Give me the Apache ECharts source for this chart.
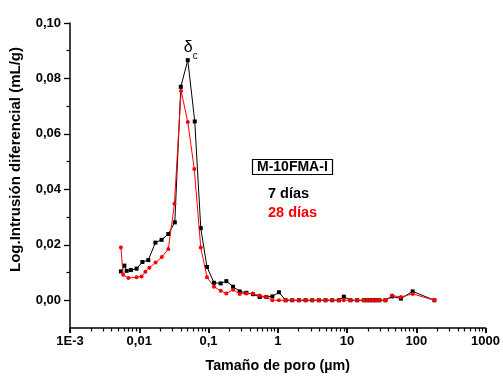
<!DOCTYPE html>
<html>
<head>
<meta charset="utf-8">
<script src="https://cdn.jsdelivr.net/npm/echarts@6/dist/echarts.min.js"></script>
<style>
  html, body { margin: 0; padding: 0; background: #fff; }
  #chart { width: 503px; height: 378px; }
</style>
</head>
<body>
<div id="chart"></div>
<script>
// Pore size (µm) and differential log intrusion (mL/g), sample M-10FMA-I
var sizes7 = [0.00543, 0.0061, 0.00657, 0.00757, 0.00915, 0.0111, 0.0135, 0.0171, 0.021, 0.0263,
  0.0326, 0.0398, 0.0502, 0.0633, 0.0773, 0.095, 0.120, 0.150, 0.181, 0.226,
  0.282, 0.352, 0.439, 0.548, 0.684, 0.835, 1.039, 1.298, 1.621, 2.018,
  2.521, 3.148, 3.92, 4.895, 6.114, 7.61, 8.99, 11.22, 14.02, 17.45,
  19.54, 21.58, 24.08, 26.34, 29.39, 35.86, 44.79, 60.0, 88.7, 182.4];
var values7 = [0.0104, 0.0125, 0.0106, 0.0109, 0.0114, 0.0138, 0.0145, 0.0208, 0.0218, 0.0239,
  0.0281, 0.0770, 0.0866, 0.0645, 0.0260, 0.0120, 0.0063, 0.0061, 0.0069, 0.0049,
  0.0032, 0.0027, 0.0022, 0.0012, 0.0012, 0.0014, 0.0029, 0, 0, 0,
  0, 0, 0, 0, 0, 0, 0.0013, 0, 0, 0,
  0, 0, 0, 0, 0, 0, 0.0014, 0.0006, 0.0032, 0];

var sizes28 = [0.00543, 0.00586, 0.00697, 0.00915, 0.0108, 0.01225, 0.0140, 0.0172, 0.0212, 0.0263,
  0.0322, 0.0402, 0.0502, 0.0623, 0.0773, 0.095, 0.120, 0.150, 0.181, 0.226,
  0.282, 0.352, 0.439, 0.548, 0.684, 0.835, 1.039, 1.298, 1.621, 2.018,
  2.521, 3.148, 3.92, 4.895, 6.114, 7.61, 8.99, 11.22, 14.02, 17.45,
  19.54, 21.58, 24.08, 26.34, 29.39, 35.86, 44.79, 60.0, 88.7, 182.4];
var values28 = [0.0190, 0.0092, 0.0080, 0.0083, 0.0086, 0.0103, 0.0117, 0.0136, 0.0156, 0.0185,
  0.0348, 0.0755, 0.0643, 0.0473, 0.0190, 0.0083, 0.0049, 0.0034, 0.0024, 0.0038,
  0.0023, 0.0024, 0.0024, 0.0017, 0.0012, 0, 0, 0, 0, 0,
  0, 0, 0, 0, 0, 0, 0, 0, 0, 0,
  0, 0, 0, 0, 0, 0, 0.0017, 0.0012, 0.0023, 0];

// Axis ticks and labels
var xMajorTicks = [0.001, 0.01, 0.1, 1, 10, 100, 1000];
var xTickLabels = ['1E-3', '0,01', '0,1', '1', '10', '100', '1000'];
var yMajorTicks = [0, 0.02, 0.04, 0.06, 0.08, 0.10];
var yMinorTicks = [0.01, 0.03, 0.05, 0.07, 0.09];

function pairs(xs, ys) {
  return xs.map(function (x, i) { return [x, ys[i]]; });
}

var FONT = '"Liberation Sans", Arial, sans-serif';
var peakIndex = values7.indexOf(Math.max.apply(null, values7));
var data7 = pairs(sizes7, values7);
data7[peakIndex] = {
  value: data7[peakIndex],
  label: {
    show: true,
    position: 'top',
    distance: 3,
    offset: [3, 0],
    formatter: '{d|δ}{s|c}',
    rich: {
      d: { fontSize: 16, fontFamily: FONT, color: '#000', lineHeight: 16, verticalAlign: 'bottom' },
      s: { fontSize: 10, fontFamily: FONT, color: '#000', lineHeight: 4, verticalAlign: 'bottom', padding: [0, 0, -6, 0] }
    }
  }
};

var chart = echarts.init(document.getElementById('chart'), null, { renderer: 'canvas' });

var axisLineStyle = { color: '#000', width: 1.5 };
var hiddenLine = { show: true, onZero: false, lineStyle: { color: 'rgba(0,0,0,0)' } };

chart.setOption({
  animation: false,
  backgroundColor: '#fff',
  grid: { left: 70, right: 17, top: 23, bottom: 49, containLabel: false },
  title: {
    text: 'M-10FMA-I',
    left: 252,
    top: 159,
    borderColor: '#000',
    borderWidth: 1.2,
    padding: [1, 5, 1, 5],
    textStyle: { color: '#000', fontFamily: FONT, fontWeight: 'bold', fontSize: 14, lineHeight: 14 }
  },
  legend: {
    orient: 'vertical',
    left: 258,
    top: 181,
    icon: 'none',
    itemWidth: 0,
    itemHeight: 14,
    itemGap: 4,
    selectedMode: false,
    textStyle: { fontFamily: FONT, fontWeight: 'bold', fontSize: 14.5 },
    data: [
      { name: '7 días', textStyle: { color: '#000' } },
      { name: '28 días', textStyle: { color: '#ff0000' } }
    ]
  },
  xAxis: [{
    type: 'log',
    logBase: 10,
    min: 0.001,
    max: 1000,
    splitNumber: 6,
    name: 'Tamaño de poro (µm)',
    nameLocation: 'middle',
    nameGap: 31,
    nameTextStyle: { color: '#000', fontFamily: FONT, fontWeight: 'bold', fontSize: 14.3 },
    axisLine: { show: true, onZero: false, lineStyle: axisLineStyle },
    axisTick: { show: true, length: 5, lineStyle: { color: '#000', width: 1.5 }, customValues: xMajorTicks },
    // 2..9 within each decade
    minorTick: { show: true, splitNumber: 9, length: 3.5, lineStyle: { color: '#000', width: 1.2 } },
    axisLabel: {
      customValues: xMajorTicks,
      margin: 7,
      color: '#000', fontFamily: FONT, fontWeight: 'bold', fontSize: 13,
      formatter: function (v) {
        for (var i = 0; i < xMajorTicks.length; i++) {
          if (Math.abs(Math.log10(v) - Math.log10(xMajorTicks[i])) < 1e-6) return xTickLabels[i];
        }
        return '';
      }
    },
    splitLine: { show: false },
    minorSplitLine: { show: false }
  }, {
    // decade ticks drawn once more so they sit above the axis line
    type: 'log',
    logBase: 10,
    min: 0.001,
    max: 1000,
    splitNumber: 6,
    gridIndex: 0,
    position: 'bottom',
    axisLine: hiddenLine,
    axisTick: { show: true, length: 5, lineStyle: { color: '#000', width: 1.5 }, customValues: xMajorTicks },
    axisLabel: { show: false },
    splitLine: { show: false }
  }],
  yAxis: [{
    type: 'value',
    min: -0.01,
    max: 0.10,
    splitNumber: 5,
    name: 'Log.Intrusión diferencial (mL/g)',
    nameLocation: 'middle',
    nameGap: 47,
    nameTextStyle: { color: '#000', fontFamily: FONT, fontWeight: 'bold', fontSize: 15, padding: [0, 0, 0, 32] },
    axisLine: { show: true, onZero: false, lineStyle: axisLineStyle },
    axisTick: { show: true, length: 6, lineStyle: { color: '#000', width: 1.3 }, customValues: yMajorTicks },
    axisLabel: {
      customValues: yMajorTicks,
      margin: 9,
      color: '#000', fontFamily: FONT, fontWeight: 'bold', fontSize: 13,
      formatter: function (v) { return v.toFixed(2).replace('.', ','); }
    },
    splitLine: { show: false }
  }, {
    // short ticks between the labelled values
    type: 'value',
    min: -0.01,
    max: 0.10,
    splitNumber: 5,
    gridIndex: 0,
    position: 'left',
    axisLine: hiddenLine,
    axisTick: { show: true, length: 3.5, lineStyle: { color: '#000', width: 1.2 }, customValues: yMinorTicks },
    axisLabel: { show: false },
    splitLine: { show: false }
  }],
  series: [{
    name: '7 días',
    type: 'line',
    xAxisIndex: 0,
    yAxisIndex: 0,
    data: data7,
    symbol: 'rect',
    symbolSize: 4,
    showAllSymbol: true,
    lineStyle: { color: '#000', width: 1 },
    itemStyle: { color: '#000' },
    z: 2
  }, {
    name: '28 días',
    type: 'line',
    xAxisIndex: 0,
    yAxisIndex: 0,
    data: pairs(sizes28, values28),
    symbol: 'circle',
    symbolSize: 4,
    showAllSymbol: true,
    lineStyle: { color: '#ff0000', width: 1 },
    itemStyle: { color: '#ff0000' },
    z: 3
  }]
});
</script>
</body>
</html>
